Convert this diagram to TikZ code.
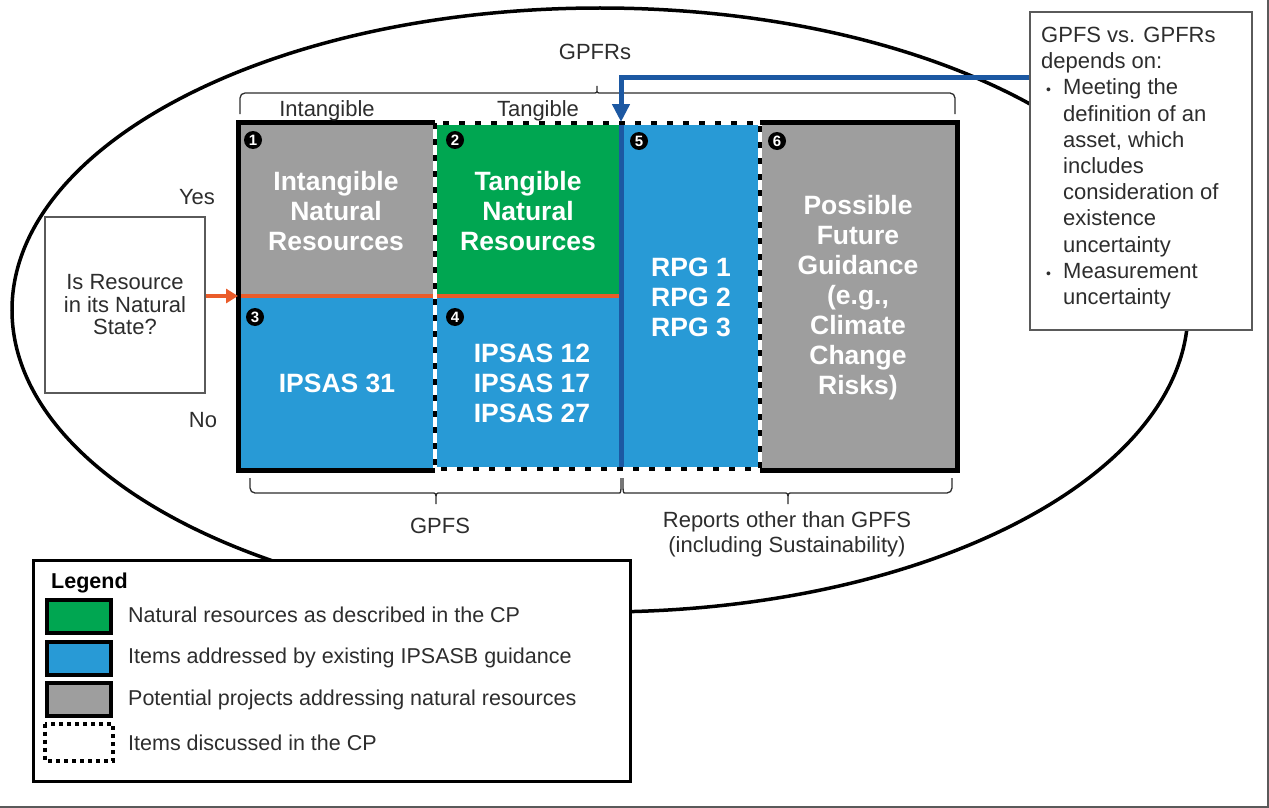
\documentclass[tikz,border=0pt]{standalone}
\usepackage{fontspec}
\setmainfont{Liberation Sans}
\usetikzlibrary{arrows.meta}
\definecolor{cgray}{RGB}{158,158,158}
\definecolor{cgreen}{RGB}{0,166,81}
\definecolor{cblue}{RGB}{40,154,214}
\definecolor{dblue}{RGB}{28,88,162}
\definecolor{corange}{RGB}{234,92,42}
\definecolor{ctext}{RGB}{45,45,45}
\definecolor{cframe}{RGB}{90,90,90}
\begin{document}
\begin{tikzpicture}[x=1pt,y=-1pt,
  lab/.style={inner sep=0pt,text=ctext,font=\fontsize{22}{25}\selectfont,align=center},
  leg/.style={inner sep=0pt,text=ctext,font=\fontsize{21.5}{24}\selectfont,anchor=west},
  celltext/.style={inner sep=0pt,text=white,font=\bfseries\fontsize{26.5}{30}\selectfont,align=center},
  num/.style={circle,fill=black,inner sep=0pt,minimum size=18pt,text=white,font=\bfseries\fontsize{15}{15}\selectfont},
  swatch/.style={draw=black,line width=4pt,minimum width=64pt,minimum height=33pt,inner sep=0pt},
  bracestyle/.style={draw=ctext,line width=1.3pt,rounded corners=5pt},
  thinbox/.style={draw=cframe,line width=1.5pt,fill=white,inner sep=0pt}
]
\useasboundingbox (0,0) rectangle (1269,808);
% frame
\draw[cframe,line width=2pt] (1268,0) -- (1268,807) -- (0,807);
% ellipse
\draw[black,line width=3.5pt] (600,310) ellipse [x radius=588, y radius=302];

% cells
\fill[cgray]  (238,122) rectangle (435,296);
\fill[cgreen] (435,122) rectangle (621,296);
\fill[cblue]  (238,296) rectangle (435,470);
\fill[cblue]  (435,296) rectangle (621,470);
\fill[cblue]  (621,122) rectangle (760,470);
\fill[cgray]  (760,122) rectangle (957,470);

% orange divider
\coordinate (ol) at (238,296);
\coordinate (or) at (621,296);
\draw[corange,line width=4pt] (ol) -- (or);
% dark blue divider
\coordinate (dt) at (621,122);
\coordinate (db) at (621,470);
\draw[dblue,line width=5pt] (dt) -- (db);

% dashed region
\draw[white,line width=4.5pt] (435,123) rectangle (760,469);
\draw[black,line width=4.5pt,dash pattern=on 6pt off 10pt] (435,123) rectangle (760,469);
% solid borders
\draw[black,line width=5pt,line join=miter] (435,122) -- (238,122) -- (238,470) -- (435,470);
\draw[black,line width=5pt,line join=miter] (760,122) -- (957,122) -- (957,470) -- (760,470);

% numbers
\node[num] (n1) at (253,140) {1};
\node[num] (n2) at (455,140) {2};
\node[num] (n3) at (255,317) {3};
\node[num] (n4) at (455,317) {4};
\node[num] (n5) at (639,141) {5};
\node[num] (n6) at (777,141) {6};

% cell texts
\node[celltext] (t1) at (336,211) {Intangible\\Natural\\Resources};
\node[celltext] (t2) at (528,211) {Tangible\\Natural\\Resources};
\node[celltext] (t3) at (337,383) {IPSAS 31};
\node[celltext] (t4) at (532,383) {IPSAS 12\\IPSAS 17\\IPSAS 27};
\node[celltext] (t5) at (691,297) {RPG 1\\RPG 2\\RPG 3};
\node[celltext] (t6) at (858,298) {Possible\\Future\\Guidance\\(e.g.,\\Climate\\Change\\Risks)};

% labels
\node[lab] (gpfrs) at (595,52) {GPFRs};
\node[lab] (intang) at (327,111) {Intangible};
\node[lab] (tang) at (538,111) {Tangible};
\node[lab] (yes) at (197,197) {Yes};
\node[lab] (no) at (203,420) {No};
\node[lab] (gpfs) at (440,526) {GPFS};
\node[lab] (reports) at (787,534) {Reports other than GPFS\\(including Sustainability)};

% braces
\draw[bracestyle] (240,114) -- (240,93) -- (590,93)
  .. controls (597,93) .. (597,83) .. controls (597,93) .. (604,93) -- (955,93) -- (955,114);
\draw[bracestyle] (250,478) -- (250,493) -- (429,493)
  .. controls (436,493) .. (436,507) .. controls (436,493) .. (443,493) -- (614,493)
  .. controls (621,493) .. (621,478);
\draw[bracestyle] (623,478) .. controls (623,493) .. (630,493) -- (781,493)
  .. controls (788,493) .. (788,507) .. controls (788,493) .. (795,493) -- (952,493) -- (952,478);

% question box
\node[thinbox,minimum width=160pt,minimum height=176pt] (q) at (125,305) {};
\node[lab,font=\fontsize{22}{22.5}\selectfont] (qt) at (125,305) {Is Resource\\in its Natural\\State?};
\draw[corange,line width=4pt,-{Triangle[length=12pt,width=14pt]}] (q.east |- ol) -- (ol);

% right box
\node[thinbox,minimum width=222pt,minimum height=318pt] (gbox) at (1141,171) {};
\node[inner sep=0pt,anchor=north west,text=ctext,align=left,font=\fontsize{22}{26.2}\selectfont] (gt) at (1041,27)
{GPFS vs. GPFRs\\depends on:\\
\makebox[22pt][l]{\hspace{5pt}{\fontsize{14}{14}\selectfont •}}Meeting the\\
\hspace*{22pt}definition of an\\
\hspace*{22pt}asset, which\\
\hspace*{22pt}includes\\
\hspace*{22pt}consideration of\\
\hspace*{22pt}existence\\
\hspace*{22pt}uncertainty\\
\makebox[22pt][l]{\hspace{5pt}{\fontsize{14}{14}\selectfont •}}Measurement\\
\hspace*{22pt}uncertainty};
\coordinate (bh) at (621,78);
\coordinate (btip) at (621,122);
\draw[dblue,line width=5pt,-{Triangle[length=18pt,width=17pt]}] (gbox.west |- bh) -- (bh) -- (btip);

% legend
\node[draw=black,line width=3pt,fill=white,minimum width=597pt,minimum height=221pt,inner sep=0pt] (legend) at (331.5,670.5) {};
\node[inner sep=0pt,anchor=west,text=black,font=\bfseries\fontsize{21.5}{24}\selectfont] (legt) at (51,583) {Legend};
\node[swatch,fill=cgreen] (s1) at (79,616.5) {};
\node[swatch,fill=cblue] (s2) at (79,658) {};
\node[swatch,fill=cgray] (s3) at (79,699) {};
\node[swatch,draw=none] (s4) at (79,742) {};
\draw[black,line width=4pt,dash pattern=on 4pt off 4pt] (s4.north west) rectangle (s4.south east);
\node[leg] (l1) at (128,615) {Natural resources as described in the CP};
\node[leg] (l2) at (128,658) {Items addressed by existing IPSASB guidance};
\node[leg] (l3) at (128,700) {Potential projects addressing natural resources};
\node[leg] (l4) at (128,743) {Items discussed in the CP};
\end{tikzpicture}
\end{document}
